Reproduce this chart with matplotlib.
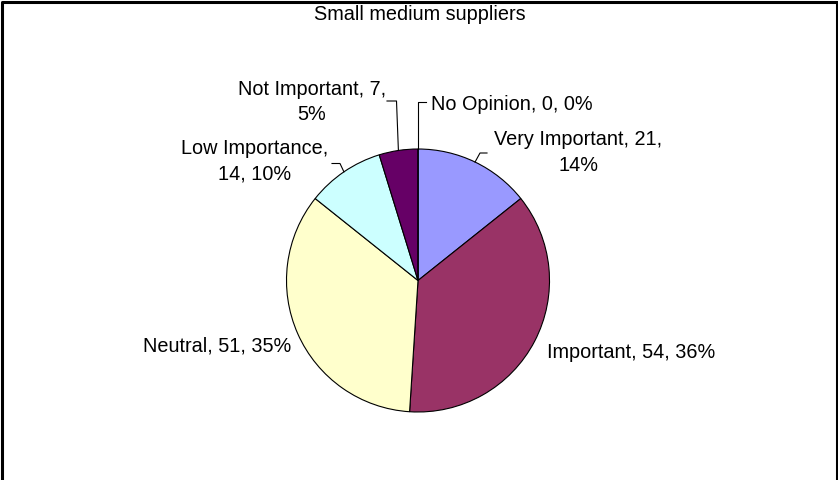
import numpy as np
import matplotlib
matplotlib.use("Agg")
import matplotlib.pyplot as plt

# data
categories = ["Very Important", "Important", "Neutral", "Low Importance",
              "Not Important", "No Opinion"]
counts = [21, 54, 51, 14, 7, 0]
percents = [14, 36, 35, 10, 5, 0]
colors = ["#9999FF", "#993366", "#FFFFCC", "#CCFFFF", "#660066", "#FF8080"]
title = "Small medium suppliers"

plt.rcParams["font.family"] = ["Liberation Sans", "DejaVu Sans"]
FS = 14.3
H = 480


def py(y):
    # pixel row (from top) -> data y
    return H - y


fig = plt.figure(figsize=(8.38, 4.8), dpi=100)
ax = fig.add_axes([0, 0, 1, 1])

cx, cy, r = 418, 280.5, 131.5
wedges, _ = ax.pie(counts, colors=colors, startangle=90, counterclock=False,
                   center=(cx, py(cy)), radius=r,
                   wedgeprops=dict(edgecolor="black", linewidth=0.8))
ax.set_xlim(0, 838)
ax.set_ylim(0, H)
ax.set_aspect("equal")
ax.axis("off")

# label text: (x, y, ha)
label_pos = {
    "Very Important": (578, 152.5, "center"),
    "Important": (631, 353, "center"),
    "Neutral": (217.5, 345.5, "center"),
    "Low Importance": (255, 161.5, "center"),
    "Not Important": (312, 102, "center"),
    "No Opinion": (431, 105, "left"),
}
# leader lines: elbow and end points (pixel)
leaders = {
    "Very Important": [(480, 153), (487, 153)],
    "Low Importance": [(340, 163.5), (332, 163.5)],
    "Not Important": [(396.5, 101), (387, 101)],
    "No Opinion": [(418, 102), (426, 102)],
}

splits = {
    "Very Important": "Very Important, {c},\n{p}%",
    "Low Importance": "Low Importance,\n{c}, {p}%",
    "Not Important": "Not Important, {c},\n{p}%",
}

for w, cat, c, p in zip(wedges, categories, counts, percents):
    x, y, ha = label_pos[cat]
    if cat in splits:
        txt = splits[cat].format(c=c, p=p)
    else:
        txt = f"{cat}, {c}, {p}%"
    ax.text(x, py(y), txt, ha=ha, va="center", ma="center",
            fontsize=FS, linespacing=1.45, color="black")
    if cat in leaders:
        mid = np.deg2rad((w.theta1 + w.theta2) / 2)
        sx = w.center[0] + r * np.cos(mid)
        sy = w.center[1] + r * np.sin(mid)
        xs = [sx] + [pt[0] for pt in leaders[cat]]
        ys = [sy] + [py(pt[1]) for pt in leaders[cat]]
        ax.plot(xs, ys, color="black", linewidth=0.8)

ax.text(420, py(14), title, ha="center", va="center", fontsize=FS)

# chart frame (top, left, right)
ax.plot([1.5, 1.5, 836.5, 836.5], [0, py(1.5), py(1.5), 0],
        color="black", linewidth=2.2, clip_on=False)

fig.savefig("out.png", dpi=100, facecolor="white")
